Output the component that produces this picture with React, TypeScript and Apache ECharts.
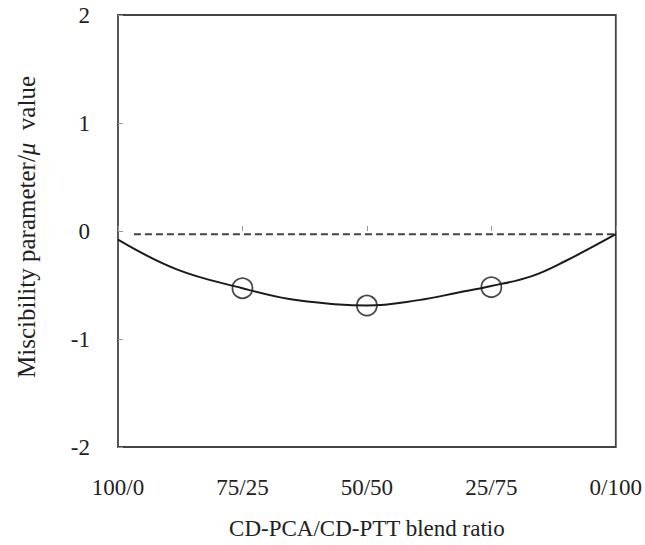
import React, { useEffect, useRef } from "react";
import * as echarts from "echarts";

// Blend composition: share of CD-PTT (%) along x; labels read PCA/PTT.
const ratioTicks = [0, 25, 50, 75, 100];
const ratioLabels = ["100/0", "75/25", "50/50", "25/75", "0/100"];

// Measured miscibility parameter at the three blend ratios.
const measuredX = [25, 50, 75];
const measuredMu = [-0.53, -0.69, -0.52];

// Fitted curve through the measured values.
const fitX = [0, 11.8, 25, 34.4, 44.4, 50, 60.4, 68.4, 75, 83, 89.8, 100];
const fitMu = [-0.08, -0.355, -0.53, -0.63, -0.68, -0.69, -0.64, -0.57, -0.51, -0.42, -0.28, -0.03];

// Additivity reference (dashed).
const refX = [3.2, 100];
const refMu = [-0.03, -0.03];

const FONT = "'Liberation Serif', 'DejaVu Serif', serif";

export default function App() {
  const ref = useRef<HTMLDivElement>(null);

  useEffect(() => {
    if (!ref.current) return;
    const chart = echarts.init(ref.current, undefined, { renderer: "svg" });
    chart.setOption({
      animation: false,
      backgroundColor: "#ffffff",
      grid: {
        left: 118,
        right: 27,
        top: 15,
        bottom: 90,
        show: true,
        borderColor: "#444",
        borderWidth: 1.8,
        backgroundColor: "transparent",
      },
      xAxis: {
        type: "value",
        min: 0,
        max: 100,
        interval: 25,
        name: "CD-PCA/CD-PTT blend ratio",
        nameLocation: "middle",
        nameGap: 70,
        nameTextStyle: { fontFamily: FONT, fontSize: 23, color: "#222" },
        axisLine: { show: false },
        axisTick: { show: true, inside: true, length: 5, lineStyle: { color: "#999" } },
        splitLine: { show: false },
        axisLabel: {
          margin: 29,
          fontFamily: FONT,
          fontSize: 23,
          color: "#222",
          formatter: (v: number) => {
            const i = ratioTicks.indexOf(v);
            return i >= 0 ? ratioLabels[i] : "";
          },
        },
      },
      yAxis: {
        type: "value",
        min: -2,
        max: 2,
        interval: 1,
        name: "Miscibility parameter/{mu|μ}  value",
        nameLocation: "middle",
        nameGap: 79,
        nameTextStyle: {
          fontFamily: FONT,
          fontSize: 25,
          color: "#222",
          padding: [0, 0, 0, 8],
          rich: { mu: { fontFamily: FONT, fontSize: 25, fontStyle: "italic", color: "#222" } },
        },
        axisLine: { show: false },
        axisTick: { show: true, inside: true, length: 5, lineStyle: { color: "#999" } },
        splitLine: { show: false },
        axisLabel: { margin: 28, fontFamily: FONT, fontSize: 23, color: "#222" },
      },
      series: [
        {
          type: "line",
          data: refX.map((x, i) => [x, refMu[i]]),
          symbol: "none",
          lineStyle: { color: "#444", width: 2.2, type: [7, 4] },
          z: 2,
        },
        {
          type: "line",
          data: fitX.map((x, i) => [x, fitMu[i]]),
          smooth: 0.4,
          symbol: "none",
          lineStyle: { color: "#1a1a1a", width: 2 },
          z: 3,
        },
        {
          type: "scatter",
          data: measuredX.map((x, i) => [x, measuredMu[i]]),
          symbol: "circle",
          symbolSize: 20,
          itemStyle: { color: "rgba(255,255,255,0)", borderColor: "#1a1a1a", borderWidth: 1.8 },
          z: 4,
        },
      ],
    });
    return () => chart.dispose();
  }, []);

  return (
    <div
      ref={ref}
      style={{ position: "fixed", left: 0, top: 0, width: 645, height: 545, background: "#fff" }}
    />
  );
}
